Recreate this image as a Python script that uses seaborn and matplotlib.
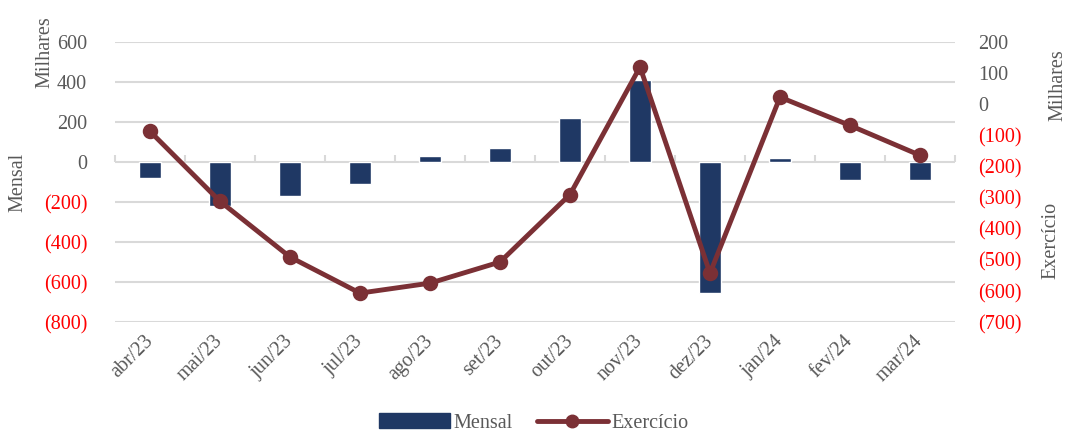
import numpy as np
import pandas as pd
import seaborn as sns
import matplotlib.pyplot as plt
from matplotlib.patches import Patch
from matplotlib.lines import Line2D

# values in thousands
months = ['abr/23', 'mai/23', 'jun/23', 'jul/23', 'ago/23', 'set/23',
          'out/23', 'nov/23', 'dez/23', 'jan/24', 'fev/24', 'mar/24']
mensal = [-78, -218, -168, -108, 30, 70, 220, 410, -655, 20, -90, -90]
exercicio = [-87, -312, -491, -607, -575, -507, -290, 120, -543, 23, -68, -164]

left_ticks = [-800, -600, -400, -200, 0, 200, 400, 600]
right_ticks = [-700, -600, -500, -400, -300, -200, -100, 0, 100, 200]

df = pd.DataFrame({'mes': months, 'mensal': mensal, 'exercicio': exercicio})

bar_color = '#1F3864'
line_color = '#7B3035'
grey = '#595959'
grid = '#D9D9D9'
fs = 14.5

sns.set_style('white')
plt.rcParams['font.family'] = ['Liberation Serif', 'DejaVu Serif']

fig = plt.figure(figsize=(10.68, 4.34), dpi=100)
ax = fig.add_axes([0.1077, 0.258, 0.7865, 0.645])

sns.barplot(data=df, x='mes', y='mensal', order=months, color=bar_color,
            width=0.32, saturation=1, ax=ax, zorder=2)
ax.set_ylim(-800, 600)
ax.set_xlim(-0.5, 11.5)

def fmt(v):
    return '({:,.0f})'.format(-v) if v < 0 else '{:,.0f}'.format(v)

ax.set_yticks(left_ticks, [fmt(v) for v in left_ticks])
for t, v in zip(ax.get_yticklabels(), left_ticks):
    t.set_color('red' if v < 0 else grey)
ax.yaxis.grid(True, color=grid, linewidth=1.5, zorder=0)
ax.set_axisbelow(True)
ax.tick_params(axis='y', length=0, labelsize=fs, pad=20)
ax.tick_params(axis='x', length=0, labelsize=fs, colors=grey, pad=12)
plt.setp(ax.get_xticklabels(), rotation=45, ha='right', va='center',
         rotation_mode='anchor')
for s in ax.spines.values():
    s.set_visible(False)
ax.set_xlabel('')
ax.set_ylabel('')

# zero line ticks between categories
zero_frac = (0 - (-800)) / 1400
sec = ax.secondary_xaxis(zero_frac)
sec.set_xticks(np.arange(-0.5, 12, 1))
sec.set_xticklabels([])
sec.tick_params(length=5, width=1.5, color=grid, direction='out')
sec.spines['bottom'].set_color(grid)
sec.spines['bottom'].set_linewidth(1.5)
sec.spines['top'].set_visible(False)

ax2 = ax.twinx()
sns.pointplot(data=df, x='mes', y='exercicio', order=months, color=line_color,
              markers='o', markersize=8.5, linewidth=3.5, ax=ax2)
ax2.set_ylim(-700, 200)
ax2.set_xlim(-0.5, 11.5)
ax2.set_yticks(right_ticks, [fmt(v) for v in right_ticks])
for t, v in zip(ax2.get_yticklabels(), right_ticks):
    t.set_color('red' if v < 0 else grey)
ax2.tick_params(axis='y', length=0, labelsize=fs, pad=17)
for s in ax2.spines.values():
    s.set_visible(False)
ax2.set_xlabel('')
ax2.set_ylabel('')
ax2.grid(False)

fig.text(45 / 1068, 1 - 52 / 434, 'Milhares', rotation=90, color=grey,
         fontsize=fs, ha='center', va='center')
fig.text(18 / 1068, 1 - 182 / 434, 'Mensal', rotation=90, color=grey,
         fontsize=fs, ha='center', va='center')
fig.text(1058 / 1068, 1 - 85 / 434, 'Milhares', rotation=90, color=grey,
         fontsize=fs, ha='center', va='center')
fig.text(1051 / 1068, 1 - 240 / 434, 'Exercício', rotation=90, color=grey,
         fontsize=fs, ha='center', va='center')

handles = [Patch(color=bar_color, label='Mensal'),
           Line2D([0], [0], color=line_color, lw=3.5, marker='o', markersize=9,
                  label='Exercício')]
fig.legend(handles=handles, loc='center', bbox_to_anchor=(0.5, 1 - 423 / 434),
           ncol=2, frameon=False, fontsize=fs, labelcolor=grey,
           handlelength=3.5, columnspacing=1.2, handletextpad=0.2)

fig.savefig('out.png', dpi=100)
